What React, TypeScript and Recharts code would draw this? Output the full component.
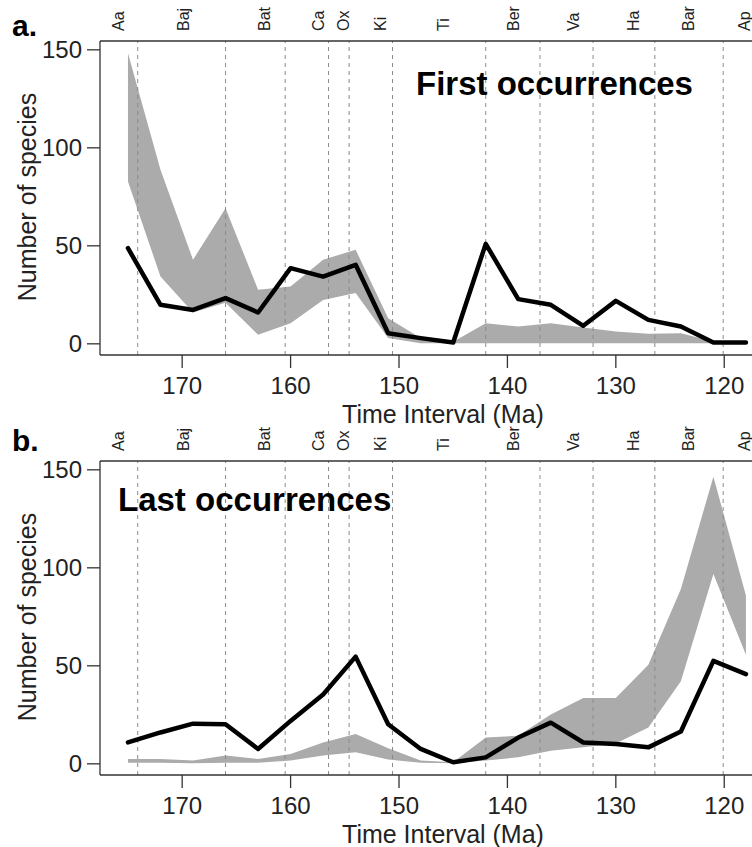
import React from 'react'
import { ComposedChart, Area, Line, XAxis, YAxis, ReferenceLine } from 'recharts'

// ages of the sampled time bins (Ma)
const ages = [175, 172, 169, 166, 163, 160, 157, 154, 151, 148, 145, 142, 139, 136, 133, 130, 127, 124, 121, 118]

const firstObserved = [48.8, 19.9, 17.3, 23.3, 16.0, 38.6, 34.3, 40.3, 5.4, 2.9, 0.7, 51.0, 22.8, 19.9, 9.2, 21.9, 12.2, 8.8, 0.7, 0.7]
const firstLow = [82.8, 34.3, 16, 21, 4.6, 10.5, 22.4, 25.9, 3, 0.3, 0.3, 0.3, 0.3, 0.3, 0.3, 0.3, 0.3, 0.3, 0.3, 0.3]
const firstHigh = [148.3, 88.8, 42.9, 69.2, 27.6, 29.3, 42.9, 48, 13, 3, 1, 10.5, 8.8, 10.5, 8.3, 6.3, 5.1, 5.4, 1.2, 1]

const lastObserved = [10.9, 16.0, 20.5, 20.2, 7.6, 21.9, 35.4, 54.7, 20.2, 7.6, 0.8, 3.3, 13.4, 21.0, 10.9, 10.1, 8.4, 16.5, 52.5, 45.8]
const lastLow = [0.5, 0.5, 0.3, 0.5, 0.5, 1.7, 4.2, 5.9, 2.2, 0.5, 0.3, 1.7, 3.3, 6.7, 8.4, 10.4, 18.5, 42.1, 96.8, 55.6]
const lastHigh = [2.5, 2.5, 1.7, 4.2, 2.5, 5.0, 10.9, 15.2, 8, 1.7, 0.8, 13.4, 14.3, 25.2, 33.6, 33.6, 50.5, 89.2, 146.5, 85.9]

// stage boundaries (dashed lines) and stage label positions
const boundaries = [174.1, 166.0, 160.5, 156.5, 154.6, 150.6, 142.0, 137.0, 132.1, 126.4, 120.1]
const stageNames = ['Aa', 'Baj', 'Bat', 'Ca', 'Ox', 'Ki', 'Ti', 'Ber', 'Va', 'Ha', 'Bar', 'Ap']
const stageAges = [175.9, 169.9, 162.45, 157.45, 155.15, 151.75, 145.95, 139.45, 133.95, 128.4, 123.35, 118.1]

const xTicks = [170, 160, 150, 140, 130, 120]
const yTicks = [0, 50, 100, 150]

const FONT = '"Liberation Sans", Arial, Helvetica, sans-serif'

const buildRows = (obs: number[], lo: number[], hi: number[]) =>
  ages.map((age, i) => ({ age, obs: obs[i], band: [lo[i], hi[i]] }))

const StageTick = (props: any) => {
  const { x, payload } = props
  const name = stageNames[stageAges.indexOf(payload.value)]
  return (
    <text x={x} y={31} dy="0.35em" transform={`rotate(-90 ${x} 31)`} textAnchor="start"
      fontSize={16} fontFamily={FONT} fill="#222">
      {name}
    </text>
  )
}

const YTitle = (props: any) => {
  const vb = props.viewBox
  const cy = vb.y + vb.height / 2 - 1
  return (
    <text x={36} y={cy} transform={`rotate(-90 36 ${cy})`} textAnchor="middle"
      fontSize={25} fontFamily={FONT} fill="#222">
      Number of species
    </text>
  )
}

const XTitle = (props: any) => {
  const vb = props.viewBox
  return (
    <text x={vb.x + vb.width / 2 + 17} y={vb.y + 68} textAnchor="middle"
      fontSize={25} fontFamily={FONT} fill="#222">
      Time Interval (Ma)
    </text>
  )
}

const Panel = ({ rows, height, bottom }: { rows: any[]; height: number; bottom: number }) => (
  <ComposedChart width={752} height={height} data={rows}
    margin={{ top: 11, right: 0, left: 0, bottom }} style={{ overflow: 'visible' }}>
    <XAxis xAxisId="top" orientation="top" dataKey="age" type="number" reversed
      domain={[117.44, 177.58]} allowDataOverflow ticks={stageAges} interval={0}
      height={30} tickLine={false} tick={<StageTick />}
      axisLine={{ stroke: '#333', strokeWidth: 1.3 }} />
    <XAxis dataKey="age" type="number" reversed domain={[117.44, 177.58]} allowDataOverflow
      ticks={xTicks} interval={0} height={60} tickSize={13} tickMargin={9}
      tick={{ fontSize: 24, fontFamily: FONT, fill: '#222' }}
      axisLine={{ stroke: '#333', strokeWidth: 1.3 }} tickLine={{ stroke: '#333', strokeWidth: 1.3 }}
      label={<XTitle />} />
    <YAxis domain={[-5.7, 154.5]} allowDataOverflow ticks={yTicks} interval={0} width={100}
      tickSize={13} tickMargin={5} tick={{ fontSize: 24, fontFamily: FONT, fill: '#222' }}
      axisLine={{ stroke: '#333', strokeWidth: 1.3 }} tickLine={{ stroke: '#333', strokeWidth: 1.3 }}
      label={<YTitle />} />
    <Area dataKey="band" type="linear" stroke="none" fill="#ababab" fillOpacity={1}
      isAnimationActive={false} dot={false} activeDot={false} />
    {boundaries.map((b) => (
      <ReferenceLine key={b} x={b} stroke="#8a8a8a" strokeWidth={1} strokeDasharray="4 4" />
    ))}
    <Line dataKey="obs" type="linear" stroke="#000" strokeWidth={4.5} dot={false} activeDot={false}
      strokeLinejoin="round" strokeLinecap="round" isAnimationActive={false} />
  </ComposedChart>
)

const textStyle: React.CSSProperties = {
  position: 'absolute', fontFamily: FONT, fontWeight: 'bold', lineHeight: 1, color: '#000', whiteSpace: 'nowrap',
}

export default function App() {
  const firstRows = buildRows(firstObserved, firstLow, firstHigh)
  const lastRows = buildRows(lastObserved, lastLow, lastHigh)
  return (
    <div style={{ position: 'absolute', left: 0, top: 0, width: 752, height: 847, background: '#fff', overflow: 'hidden' }}>
      <div style={{ position: 'absolute', left: 0, top: 0 }}>
        <Panel rows={firstRows} height={432} bottom={17} />
      </div>
      <div style={{ position: 'absolute', left: 0, top: 420 }}>
        <Panel rows={lastRows} height={427} bottom={12} />
      </div>
      <div style={{ ...textStyle, left: 12, top: 11, fontSize: 30 }}>a.</div>
      <div style={{ ...textStyle, left: 12, top: 426, fontSize: 30 }}>b.</div>
      <div style={{ ...textStyle, left: 416, top: 67, fontSize: 33 }}>First occurrences</div>
      <div style={{ ...textStyle, left: 118, top: 483, fontSize: 33 }}>Last occurrences</div>
    </div>
  )
}
